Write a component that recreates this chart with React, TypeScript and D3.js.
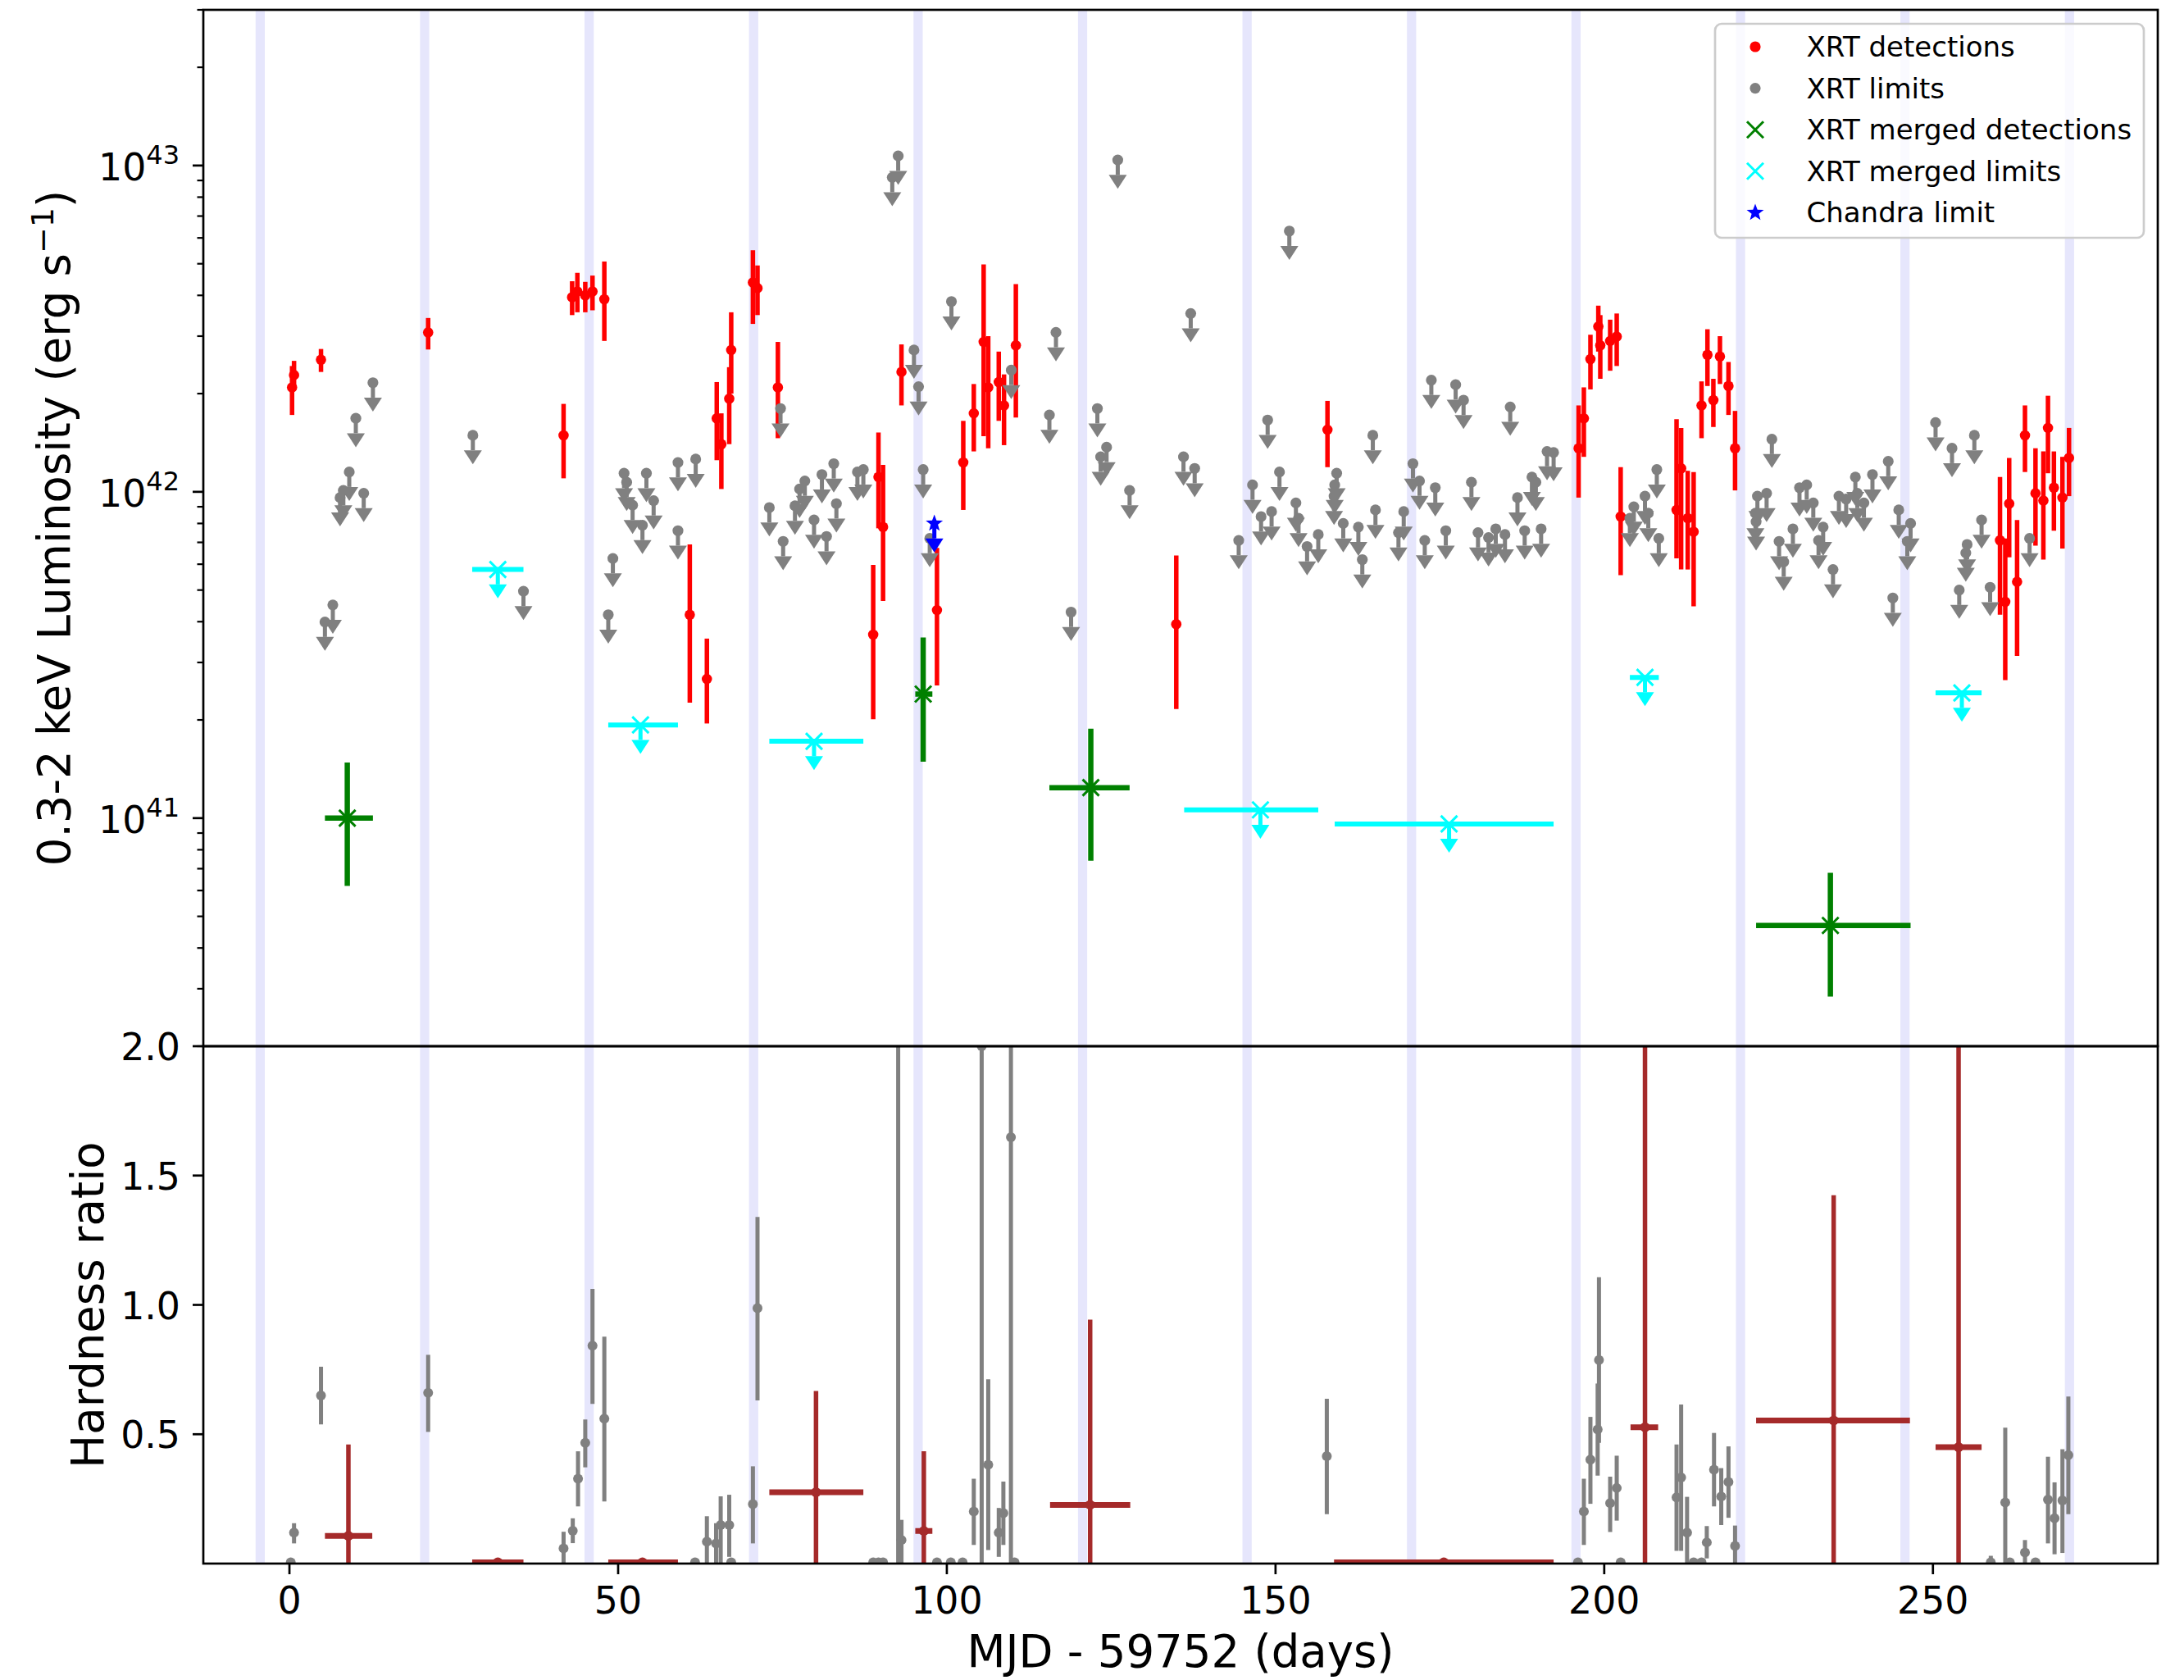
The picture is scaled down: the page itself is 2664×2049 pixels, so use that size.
import React, { useEffect } from 'react';
import * as d3 from 'd3';

// ---------- data ----------
const bandCenters = [-4.45, 20.57, 45.59, 70.61, 95.63, 120.65, 145.67, 170.69, 195.71, 220.73, 245.75, 270.77];
const bandHalfWidth = 0.7;

// XRT detections: [day, L, L_low, L_high]
const xrtDetections: number[][] = [
  [0.4, 2.09e42, 1.72e42, 2.43e42], [0.7, 2.28e42, 2.05e42, 2.52e42], [4.8, 2.54e42, 2.33e42, 2.74e42],
  [21.1, 3.08e42, 2.73e42, 3.41e42], [41.7, 1.49e42, 1.10e42, 1.86e42], [43.0, 3.95e42, 3.48e42, 4.42e42],
  [43.8, 4.11e42, 3.55e42, 4.69e42], [45.0, 4.0e42, 3.55e42, 4.4e42], [46.1, 4.11e42, 3.6e42, 4.6e42],
  [47.9, 3.89e42, 2.9e42, 5.08e42], [60.9, 4.2e41, 2.26e41, 6.9e41], [63.5, 2.67e41, 1.95e41, 3.55e41],
  [65.0, 1.68e42, 1.25e42, 2.17e42], [65.7, 1.4e42, 1.02e42, 1.74e42], [66.9, 1.93e42, 1.4e42, 2.41e42],
  [67.2, 2.72e42, 2.0e42, 3.55e42], [70.5, 4.38e42, 3.27e42, 5.5e42], [71.2, 4.21e42, 3.48e42, 4.94e42],
  [74.3, 2.09e42, 1.46e42, 2.88e42], [88.8, 3.65e41, 2.01e41, 5.97e41], [89.6, 1.11e42, 7.73e41, 1.52e42],
  [90.3, 7.8e41, 4.63e41, 1.21e42], [93.1, 2.33e42, 1.84e42, 2.83e42], [98.5, 4.34e41, 2.55e41, 6.73e41],
  [102.5, 1.23e42, 8.8e41, 1.65e42], [104.1, 1.74e42, 1.33e42, 2.14e42], [105.6, 2.88e42, 1.48e42, 4.98e42],
  [106.3, 2.09e42, 1.36e42, 3.0e42], [107.9, 2.17e42, 1.65e42, 2.69e42], [108.7, 1.84e42, 1.39e42, 2.29e42],
  [110.5, 2.81e42, 1.69e42, 4.33e42], [134.9, 3.93e41, 2.16e41, 6.38e41], [157.9, 1.55e42, 1.19e42, 1.9e42],
  [196.1, 1.36e42, 9.6e41, 1.84e42], [196.9, 1.68e42, 1.28e42, 2.09e42], [197.9, 2.55e42, 2.06e42, 3.03e42],
  [199.1, 3.21e42, 2.69e42, 3.72e42], [199.4, 2.81e42, 2.22e42, 3.48e42], [200.9, 2.9e42, 2.35e42, 3.37e42],
  [201.9, 2.99e42, 2.43e42, 3.52e42], [202.5, 8.4e41, 5.55e41, 1.19e42], [211.0, 8.8e41, 6.25e41, 1.67e42],
  [211.7, 1.18e42, 5.78e41, 1.57e42], [212.7, 8.3e41, 5.78e41, 1.16e42], [213.6, 7.55e41, 4.46e41, 1.15e42],
  [214.8, 1.84e42, 1.46e42, 2.18e42], [215.7, 2.63e42, 2.11e42, 3.15e42], [216.6, 1.91e42, 1.58e42, 2.22e42],
  [217.6, 2.6e42, 2.14e42, 3.0e42], [218.9, 2.11e42, 1.72e42, 2.5e42], [219.9, 1.36e42, 1.01e42, 1.77e42],
  [260.2, 7.1e41, 4.2e41, 1.11e42], [261.0, 4.6e41, 2.65e41, 7.2e41], [261.6, 9.2e41, 6.3e41, 1.27e42],
  [262.8, 5.3e41, 3.14e41, 8.2e41], [264.0, 1.49e42, 1.15e42, 1.84e42], [265.6, 9.9e41, 6.84e41, 1.36e42],
  [266.8, 9.4e41, 6.2e41, 1.33e42], [267.5, 1.57e42, 1.14e42, 1.97e42], [268.4, 1.03e42, 7.6e41, 1.33e42],
  [269.7, 9.6e41, 6.7e41, 1.28e42], [270.7, 1.27e42, 9.7e41, 1.57e42],
];

// XRT upper limits: [day, L]
const xrtLimits: number[][] = [
  [5.4, 3.99e41], [6.6, 4.5e41], [7.7, 9.6e41], [8.2, 1.01e42], [9.1, 1.15e42], [10.1, 1.68e42], [11.3, 9.9e41],
  [12.7, 2.16e42], [27.9, 1.49e42], [35.6, 4.96e41], [48.5, 4.2e41], [49.2, 6.25e41], [50.9, 1.14e42],
  [51.3, 1.07e42], [52.2, 9.1e41], [53.7, 7.9e41], [54.3, 1.14e42], [55.4, 9.4e41], [59.1, 1.23e42],
  [59.1, 7.6e41], [61.8, 1.26e42],
  [73.0, 8.95e41], [74.7, 1.8e42], [75.1, 7.05e41], [76.9, 9.06e41], [77.6, 1.02e42], [78.4, 1.08e42],
  [79.8, 8.2e41], [81.0, 1.13e42], [81.7, 7.3e41], [82.8, 1.22e42], [83.2, 9.2e41], [86.4, 1.15e42],
  [87.3, 1.17e42], [91.7, 9.2e42], [92.6, 1.07e43], [95.0, 2.72e42], [95.7, 2.1e42], [96.4, 1.17e42],
  [97.4, 7.2e41], [100.7, 3.83e42], [109.8, 2.36e42], [115.6, 1.72e42], [116.6, 3.08e42], [118.9, 4.28e41],
  [122.9, 1.8e42], [123.4, 1.28e42], [124.3, 1.37e42], [126.0, 1.04e43], [127.8, 1.01e42], [136.0, 1.28e42],
  [137.1, 3.52e42], [137.7, 1.18e42],
  [144.4, 7.1e41], [146.5, 1.05e42], [147.8, 8.4e41], [148.8, 1.66e42], [149.4, 8.7e41], [150.6, 1.15e42],
  [152.1, 6.3e42], [153.1, 9.25e41], [153.5, 8.3e41], [154.8, 6.8e41], [156.5, 7.4e41], [158.9, 9.7e41],
  [159.0, 1.05e42], [159.3, 1.14e42], [160.3, 8.0e41], [162.6, 7.8e41], [163.2, 6.2e41], [164.8, 1.49e42],
  [165.2, 8.8e41], [168.7, 7.5e41], [169.5, 8.7e41], [170.9, 1.22e42], [171.9, 1.08e42], [172.7, 7.1e41],
  [173.7, 2.2e42], [174.3, 1.03e42], [175.9, 7.6e41], [177.4, 2.13e42], [178.6, 1.91e42], [179.8, 1.07e42],
  [180.8, 7.5e41], [182.4, 7.24e41], [183.5, 7.7e41], [184.9, 7.4e41], [185.7, 1.82e42], [186.8, 9.6e41],
  [187.9, 7.6e41], [189.0, 1.11e42], [189.6, 1.07e42], [190.4, 7.7e41], [191.3, 1.33e42], [192.3, 1.32e42],
  [203.9, 8.3e41], [204.5, 9.0e41], [206.2, 9.7e41], [206.7, 8.6e41], [208.0, 1.17e42], [208.3, 7.2e41],
  [223.0, 8.6e41], [223.1, 8.1e41], [223.3, 9.7e41], [224.7, 9.9e41], [225.5, 1.45e42], [226.6, 7.05e41],
  [227.3, 6.1e41], [228.7, 7.7e41], [229.7, 1.03e42], [230.8, 1.05e42], [231.8, 9.25e41], [232.6, 7.1e41],
  [233.3, 7.8e41], [234.8, 5.78e41], [235.7, 9.7e41], [236.8, 9.5e41], [238.2, 1.11e42], [238.5, 9.9e41],
  [239.5, 9.25e41], [240.8, 1.13e42], [243.2, 1.24e42], [243.9, 4.73e41], [244.8, 8.8e41], [246.1, 7.05e41],
  [246.6, 8.0e41], [250.4, 1.63e42], [252.9, 1.36e42], [254.0, 5.0e41], [255.0, 6.5e41], [255.2, 6.9e41],
  [256.3, 1.49e42], [257.4, 8.2e41], [258.7, 5.1e41], [264.7, 7.2e41],
];

// XRT merged detections: [day, L, L_low, L_high, day_start, day_end]
const mergedDetections: number[][] = [
  [8.8, 1.0e41, 6.2e40, 1.48e41, 5.4, 12.7],
  [96.4, 2.4e41, 1.49e41, 3.58e41, 95.2, 97.8],
  [121.9, 1.24e41, 7.4e40, 1.88e41, 115.6, 127.8],
  [234.4, 4.69e40, 2.84e40, 6.8e40, 223.1, 246.6],
];

// XRT merged limits: [day, L, day_start, day_end]
const mergedLimits: number[][] = [
  [31.7, 5.78e41, 27.8, 35.6], [53.4, 1.93e41, 48.5, 59.1], [79.8, 1.72e41, 73.0, 87.3],
  [147.7, 1.06e41, 136.1, 156.5], [176.4, 9.6e40, 159.0, 192.3], [206.2, 2.7e41, 203.9, 208.3],
  [254.4, 2.42e41, 250.4, 257.4],
];

// Chandra limit: [day, L]
const chandraLimits: number[][] = [[98.1, 8.0e41]];

// Hardness ratio (single observations): [day, HR, low, high]
const hrSingle: number[][] = [
  [0.2, 0.005, 0.005, 0.005], [0.7, 0.12, 0.078, 0.156], [4.8, 0.65, 0.538, 0.761], [21.1, 0.66, 0.509, 0.807],
  [41.7, 0.059, 0.0, 0.123], [43.1, 0.127, 0.079, 0.175], [43.9, 0.328, 0.221, 0.434], [45.0, 0.467, 0.372, 0.557],
  [46.1, 0.842, 0.617, 1.062], [47.9, 0.56, 0.24, 0.877], [61.7, 0.005, 0.005, 0.005], [63.5, 0.085, 0.0, 0.183],
  [64.9, 0.078, 0.0, 0.156], [65.6, 0.149, 0.0, 0.26], [66.9, 0.149, 0.026, 0.266], [67.2, 0.005, 0.005, 0.005],
  [70.5, 0.23, 0.078, 0.376], [71.2, 0.987, 0.631, 1.34], [88.8, 0.005, 0.005, 0.005], [89.6, 0.005, 0.005, 0.005],
  [90.3, 0.005, 0.005, 0.005], [92.6, 2.3, 0.0, 4.0], [93.1, 0.091, 0.0, 0.169], [98.5, 0.005, 0.005, 0.005],
  [100.6, 0.005, 0.005, 0.005], [102.4, 0.005, 0.005, 0.005], [104.1, 0.201, 0.072, 0.328], [105.3, 2.0, 0.0, 4.0],
  [106.3, 0.382, 0.052, 0.712], [107.9, 0.12, 0.026, 0.215], [108.6, 0.195, 0.072, 0.317], [109.75, 1.648, 0.0, 4.0],
  [110.3, 0.005, 0.005, 0.005], [157.8, 0.415, 0.191, 0.637], [196.0, 0.005, 0.005, 0.005], [196.9, 0.201, 0.072, 0.328],
  [197.9, 0.402, 0.231, 0.567], [199.0, 0.518, 0.34, 0.696], [199.2, 0.787, 0.467, 1.107], [200.9, 0.234, 0.122, 0.336],
  [201.9, 0.292, 0.166, 0.417], [202.5, 0.005, 0.005, 0.005], [211.0, 0.256, 0.049, 0.46], [211.7, 0.333, 0.049, 0.615],
  [212.6, 0.12, 0.0, 0.258], [213.6, 0.005, 0.005, 0.005], [214.8, 0.005, 0.005, 0.005], [215.6, 0.082, 0.02, 0.145],
  [216.7, 0.363, 0.221, 0.505], [217.8, 0.259, 0.149, 0.369], [218.9, 0.315, 0.177, 0.453], [219.9, 0.068, 0.0, 0.147],
  [258.8, 0.005, 0.0, 0.03], [261.0, 0.236, 0.0, 0.525], [261.7, 0.005, 0.005, 0.005], [264.0, 0.043, 0.0, 0.091],
  [265.6, 0.005, 0.005, 0.005], [267.5, 0.247, 0.078, 0.413], [268.5, 0.175, 0.036, 0.314], [269.7, 0.244, 0.041, 0.442],
  [270.6, 0.419, 0.191, 0.646],
];

// Hardness ratio (merged): [day, HR, low, high, day_start, day_end]
const hrMerged: number[][] = [
  [8.97, 0.107, 0.0, 0.46, 5.4, 12.6], [31.7, 0.005, 0.005, 0.005, 27.8, 35.6],
  [53.7, 0.005, 0.005, 0.005, 48.5, 59.1], [80.1, 0.276, 0.0, 0.667, 73.0, 87.3],
  [96.5, 0.126, 0.0, 0.434, 95.2, 97.8], [121.8, 0.227, 0.0, 0.943, 115.7, 127.9],
  [175.6, 0.005, 0.005, 0.005, 158.9, 192.3], [206.2, 0.527, 0.0, 4.0, 204.0, 208.2],
  [234.9, 0.553, 0.0, 1.424, 223.1, 246.5], [253.9, 0.45, 0.0, 4.0, 250.4, 257.4],
];

const xTicks = [0, 50, 100, 150, 200, 250];
const lumMajorExps = [41, 42, 43];
const hrTicks = [0.5, 1.0, 1.5, 2.0];
const legendItems = ['XRT detections', 'XRT limits', 'XRT merged detections', 'XRT merged limits', 'Chandra limit'];

// ---------- styles ----------
const RED = '#ff0000';
const GRAY = '#808080';
const GREEN = '#008000';
const CYAN = '#00ffff';
const BLUE = '#0000ff';
const BROWN = '#a52a2a';
const BAND = '#e6e6fc';
const FONT = 'DejaVu Sans, Liberation Sans, sans-serif';

function xPath(cx: number, cy: number, s: number) {
  return `M${cx - s},${cy - s}L${cx + s},${cy + s}M${cx - s},${cy + s}L${cx + s},${cy - s}`;
}
function starPath(cx: number, cy: number, R: number, r: number) {
  const pts: string[] = [];
  for (let i = 0; i < 10; i++) {
    const a = -Math.PI / 2 + (i * Math.PI) / 5;
    const rr = i % 2 === 0 ? R : r;
    pts.push(`${cx + rr * Math.cos(a)},${cy + rr * Math.sin(a)}`);
  }
  return 'M' + pts.join('L') + 'Z';
}
function arrowHead(cx: number, yb: number, color: string) {
  return <path d={`M${cx - 11},${yb}L${cx + 11},${yb}L${cx},${yb + 17}Z`} fill={color} />;
}

export default function App() {
  useEffect(() => {
    document.body.style.margin = '0';
    document.body.style.overflow = 'hidden';
  }, []);

  const W = 2664, H = 2049;
  const L = 248, R = 2632, T = 12, M = 1276, B = 1907;
  const x = d3.scaleLinear().domain([-13.1, 284.2]).range([L, R]);
  const yL = d3.scaleLog().domain([2e40, 3e43]).range([M, T]);
  const yH = d3.scaleLinear().domain([0, 2]).range([B, M]);

  const minor: number[] = [];
  for (let e = 40; e <= 43; e++) {
    for (let m = 2; m <= 9; m++) {
      const v = m * Math.pow(10, e);
      if (v >= 1.999e40 && v <= 3.001e43) minor.push(v);
    }
  }

  const tickFs = 45.8;
  const labFs = 54.5;
  const legX = 2092, legY = 29, legW = 523, legH = 261;
  const legRows = [57, 107.6, 158.2, 208.8, 259.4];

  return (
    <svg width={W} height={H} style={{ position: 'absolute', left: 0, top: 0, background: '#fff' }} fontFamily={FONT}>
      <defs>
        <clipPath id="cTop"><rect x={L} y={T} width={R - L} height={M - T} /></clipPath>
        <clipPath id="cBot"><rect x={L} y={M} width={R - L} height={B - M} /></clipPath>
      </defs>
      <rect x={0} y={0} width={W} height={H} fill="#fff" />

      {/* ---------- top panel ---------- */}
      <g clipPath="url(#cTop)">
        {bandCenters.map((d, i) => (
          <rect key={'bt' + i} x={x(d - bandHalfWidth)} y={T} width={x(d + bandHalfWidth) - x(d - bandHalfWidth)} height={M - T} fill={BAND} />
        ))}
        {xrtDetections.map((d, i) => (
          <g key={'det' + i}>
            <line x1={x(d[0])} x2={x(d[0])} y1={yL(d[2])} y2={yL(d[3])} stroke={RED} strokeWidth={5.5} />
            <circle cx={x(d[0])} cy={yL(d[1])} r={6.3} fill={RED} />
          </g>
        ))}
        {xrtLimits.map((d, i) => {
          const cx = x(d[0]);
          const yb = yL(d[1] * 0.9);
          return (
            <g key={'lim' + i}>
              <line x1={cx} x2={cx} y1={yL(d[1])} y2={yb} stroke={GRAY} strokeWidth={5} />
              {arrowHead(cx, yb, GRAY)}
              <circle cx={cx} cy={yL(d[1])} r={6.6} fill={GRAY} />
            </g>
          );
        })}
        {mergedDetections.map((d, i) => (
          <g key={'md' + i}>
            <line x1={x(d[4])} x2={x(d[5])} y1={yL(d[1])} y2={yL(d[1])} stroke={GREEN} strokeWidth={6.5} />
            <line x1={x(d[0])} x2={x(d[0])} y1={yL(d[2])} y2={yL(d[3])} stroke={GREEN} strokeWidth={6.5} />
            <path d={xPath(x(d[0]), yL(d[1]), 10)} stroke={GREEN} strokeWidth={3} fill="none" />
          </g>
        ))}
        {mergedLimits.map((d, i) => {
          const cx = x(d[0]);
          const yb = yL(d[1] * 0.9);
          return (
            <g key={'ml' + i}>
              <line x1={x(d[2])} x2={x(d[3])} y1={yL(d[1])} y2={yL(d[1])} stroke={CYAN} strokeWidth={6} />
              <line x1={cx} x2={cx} y1={yL(d[1])} y2={yb} stroke={CYAN} strokeWidth={5} />
              {arrowHead(cx, yb, CYAN)}
              <path d={xPath(cx, yL(d[1]), 10)} stroke={CYAN} strokeWidth={3} fill="none" />
            </g>
          );
        })}
        {chandraLimits.map((d, i) => {
          const cx = x(d[0]);
          const yb = yL(d[1] * 0.9);
          return (
            <g key={'ch' + i}>
              <line x1={cx} x2={cx} y1={yL(d[1])} y2={yb} stroke={BLUE} strokeWidth={5} />
              {arrowHead(cx, yb, BLUE)}
              <path d={starPath(cx, yL(d[1]), 11, 4.6)} fill={BLUE} />
            </g>
          );
        })}
      </g>

      {/* ---------- bottom panel ---------- */}
      <g clipPath="url(#cBot)">
        {bandCenters.map((d, i) => (
          <rect key={'bb' + i} x={x(d - bandHalfWidth)} y={M} width={x(d + bandHalfWidth) - x(d - bandHalfWidth)} height={B - M} fill={BAND} />
        ))}
        {hrSingle.map((d, i) => (
          <g key={'hr' + i}>
            <line x1={x(d[0])} x2={x(d[0])} y1={yH(d[2])} y2={yH(d[3])} stroke={GRAY} strokeWidth={5} />
            <circle cx={x(d[0])} cy={yH(d[1])} r={6} fill={GRAY} />
          </g>
        ))}
        {hrMerged.map((d, i) => (
          <g key={'hm' + i}>
            <line x1={x(d[4])} x2={x(d[5])} y1={yH(d[1])} y2={yH(d[1])} stroke={BROWN} strokeWidth={7} />
            <line x1={x(d[0])} x2={x(d[0])} y1={yH(d[2])} y2={yH(d[3])} stroke={BROWN} strokeWidth={5.5} />
            <circle cx={x(d[0])} cy={yH(d[1])} r={6} fill={BROWN} />
          </g>
        ))}
      </g>

      {/* ---------- spines ---------- */}
      <rect x={L} y={T} width={R - L} height={M - T} fill="none" stroke="#000" strokeWidth={2.7} />
      <rect x={L} y={M} width={R - L} height={B - M} fill="none" stroke="#000" strokeWidth={2.7} />

      {/* ---------- y ticks top (log) ---------- */}
      {minor.map((v, i) => (
        <line key={'mn' + i} x1={L - 7.5} x2={L} y1={yL(v)} y2={yL(v)} stroke="#000" strokeWidth={2.2} />
      ))}
      {lumMajorExps.map((e) => {
        const yy = yL(Math.pow(10, e));
        return (
          <g key={'mj' + e}>
            <line x1={L - 13} x2={L} y1={yy} y2={yy} stroke="#000" strokeWidth={2.7} />
            <text x={219} y={yy + 18.5} textAnchor="end" fontSize={tickFs}>
              10<tspan dy={-20} fontSize={32}>{e}</tspan>
            </text>
          </g>
        );
      })}

      {/* ---------- y ticks bottom ---------- */}
      {hrTicks.map((t) => (
        <g key={'ht' + t}>
          <line x1={L - 13} x2={L} y1={yH(t)} y2={yH(t)} stroke="#000" strokeWidth={2.7} />
          <text x={220} y={yH(t) + 17} textAnchor="end" fontSize={tickFs}>{t.toFixed(1)}</text>
        </g>
      ))}

      {/* ---------- x ticks ---------- */}
      {xTicks.map((t) => (
        <g key={'xt' + t}>
          <line x1={x(t)} x2={x(t)} y1={B} y2={B + 13} stroke="#000" strokeWidth={2.7} />
          <text x={x(t)} y={1968} textAnchor="middle" fontSize={tickFs}>{t}</text>
        </g>
      ))}

      {/* ---------- axis labels ---------- */}
      <text x={(L + R) / 2} y={2033} textAnchor="middle" fontSize={labFs}>MJD - 59752 (days)</text>
      <text transform={`translate(85,${(T + M) / 2}) rotate(-90)`} textAnchor="middle" fontSize={labFs}>
        0.3-2 keV Luminosity (erg s<tspan dy={-20} fontSize={38}>−1</tspan><tspan dy={20}>)</tspan>
      </text>
      <text transform={`translate(126,${(M + B) / 2}) rotate(-90)`} textAnchor="middle" fontSize={labFs}>Hardness ratio</text>

      {/* ---------- legend ---------- */}
      <rect x={legX} y={legY} width={legW} height={legH} rx={8} fill="#fff" fillOpacity={0.8} stroke="#cccccc" strokeWidth={2.7} />
      {legendItems.map((lab, i) => {
        const cy = legRows[i];
        const cx = 2141;
        let marker: React.ReactNode = null;
        if (i === 0) marker = <circle cx={cx} cy={cy} r={6.6} fill={RED} />;
        if (i === 1) marker = <circle cx={cx} cy={cy} r={6.6} fill={GRAY} />;
        if (i === 2) marker = <path d={xPath(cx, cy, 10)} stroke={GREEN} strokeWidth={3} fill="none" />;
        if (i === 3) marker = <path d={xPath(cx, cy, 10)} stroke={CYAN} strokeWidth={3} fill="none" />;
        if (i === 4) marker = <path d={starPath(cx, cy, 11, 4.6)} fill={BLUE} />;
        return (
          <g key={'lg' + i}>
            {marker}
            <text x={2203.5} y={cy + 12} fontSize={34}>{lab}</text>
          </g>
        );
      })}
    </svg>
  );
}
